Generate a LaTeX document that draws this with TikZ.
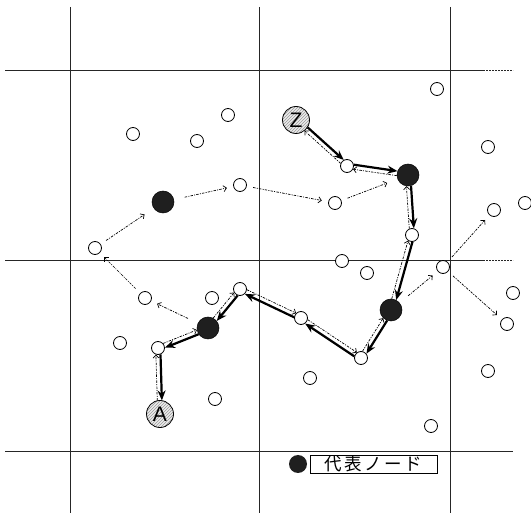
\documentclass[tikz,border=0pt]{standalone}
\usepackage{fontspec}
\newfontfamily\jp[LetterSpace=14]{Noto Sans CJK JP}
\newfontfamily\lsans{Liberation Sans}
\usetikzlibrary{arrows.meta,calc,patterns}
\tikzset{
  grid/.style={line width=0.9pt,black!85},
  gridext/.style={line width=0.9pt,black!85,dash pattern=on 2pt off 1pt},
  sn/.style={circle,draw,fill=white,line width=0.8pt,minimum size=13pt,inner sep=0pt},
  rep/.style={circle,fill=black!88,draw=black,line width=0.5pt,minimum size=22pt,inner sep=0pt},
  endpt/.style={circle,draw,line width=0.8pt,minimum size=27pt,inner sep=0pt,
    preaction={fill=gray!15},pattern=north east lines,pattern color=gray!80,
    font=\lsans\fontsize{21}{21}\selectfont},
  boldarr/.style={line width=2.2pt,-{Stealth[length=10pt,width=8pt]}},
  reqarr/.style={line width=0.7pt,dash pattern=on 2.5pt off 1.2pt on 1pt off 1.2pt,
    -{Straight Barb[length=3pt,width=6pt,line width=0.7pt]}},
}
\newcommand\off{2.3pt}
\newcommand\pairedge[4]{%
  \draw[boldarr,shorten <=#3pt,shorten >=#4pt] ($(#1)!\off!90:(#2)$) -- ($(#2)!\off!-90:(#1)$);
  \draw[reqarr,shorten <=#4pt,shorten >=#3pt] ($(#2)!\off!90:(#1)$) -- ($(#1)!\off!-90:(#2)$);
}
\newcommand\reqedge[4]{%
  \draw[reqarr,shorten <=#3pt,shorten >=#4pt] (#1) -- (#2);
}
\begin{document}
\begin{tikzpicture}[x=1pt,y=-1pt]
\useasboundingbox (0,0) rectangle (531,513);
% grid
\foreach \x in {70,259,450} \draw[grid] (\x,7) -- (\x,513);
\foreach \y in {70,260} {
  \draw[grid] (5,\y) -- (483,\y);
  \draw[gridext] (483,\y) -- (513,\y);
}
\draw[grid] (5,451) -- (513,451);

% isolated nodes
\node[sn] (i1) at (437,89) {};
\node[sn] (i2) at (133,134) {};
\node[sn] (i3) at (197,141) {};
\node[sn] (i4) at (228,115) {};
\node[sn] (i5) at (488,147) {};
\node[sn] (i6) at (525,203) {};
\node[sn] (i7) at (342,261) {};
\node[sn] (i8) at (367,273) {};
\node[sn] (i9) at (513,293) {};
\node[sn] (i10) at (212,298) {};
\node[sn] (i11) at (120,343) {};
\node[sn] (i12) at (488,371) {};
\node[sn] (i13) at (310,378) {};
\node[sn] (i14) at (215,399) {};
\node[sn] (i15) at (431,426) {};

% path nodes
\node[endpt] (Z) at (296,120) {Z};
\node[endpt] (A) at (160,414) {A};
\node[sn] (n347) at (347,166) {};
\node[rep] (r408) at (408,175) {};
\node[sn] (n412) at (412,235) {};
\node[rep] (r391) at (391,310) {};
\node[sn] (n361) at (361,358) {};
\node[sn] (n301) at (301,318) {};
\node[sn] (n240) at (240,289) {};
\node[rep] (r208) at (208,328) {};
\node[sn] (n158) at (158,348) {};
\node[sn] (n145) at (145,298) {};
\node[sn] (n95) at (95,248) {};
\node[rep] (r163) at (163,202) {};
\node[sn] (n240t) at (240,185) {};
\node[sn] (n335) at (335,203) {};
\node[sn] (n443) at (443,267) {};
\node[sn] (n494) at (494,210) {};
\node[sn] (n507) at (507,324) {};

% paired edges (bold: Z side -> A side; dashed reverse)
\pairedge{Z}{n347}{13.5}{6.5}
\pairedge{n347}{r408}{6.5}{11}
\pairedge{r408}{n412}{11}{6.5}
\pairedge{n412}{r391}{6.5}{11}
\pairedge{r391}{n361}{11}{6.5}
\pairedge{n361}{n301}{6.5}{6.5}
\pairedge{n301}{n240}{6.5}{6.5}
\pairedge{n240}{r208}{6.5}{11}
\pairedge{r208}{n158}{11}{6.5}
\pairedge{n158}{A}{6.5}{13.5}

% single request edges
\reqedge{r208}{n145}{11}{6.5}
\reqedge{n145}{n95}{6.5}{6.5}
\reqedge{n95}{r163}{6.5}{11}
\reqedge{r163}{n240t}{11}{6.5}
\reqedge{n240t}{n335}{6.5}{6.5}
\reqedge{n335}{r408}{6.5}{11}
\reqedge{r391}{n443}{11}{6.5}
\reqedge{n443}{n494}{6.5}{6.5}
\reqedge{n443}{n507}{6.5}{6.5}

% legend
\node[circle,fill=black!88,minimum size=18pt,inner sep=0pt] (legdot) at (298,464) {};
\node[draw,line width=0.8pt,minimum width=127pt,minimum height=18pt,inner sep=0pt,
  font=\jp\fontsize{17.5}{17.5}\selectfont] (legbox) at (373.5,464) {代表ノード};
\end{tikzpicture}
\end{document}
